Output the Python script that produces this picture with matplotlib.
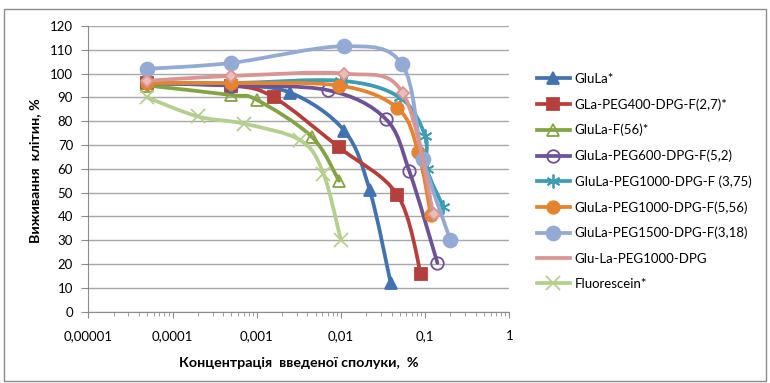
import numpy as np
import matplotlib
matplotlib.use("Agg")
import matplotlib.pyplot as plt
from matplotlib.path import Path
from matplotlib.patches import PathPatch, Rectangle
from matplotlib.lines import Line2D
from matplotlib.ticker import FixedLocator, FixedFormatter, LogLocator, NullFormatter

plt.rcParams["font.family"] = ["Lato", "Noto Sans", "DejaVu Sans"]

# values (concentration %, survival %)
glula_x = [0.00005, 0.0005, 0.0025, 0.011, 0.022, 0.039]
glula_y = [96, 95, 92, 76, 51, 12]

gla400_x = [0.00005, 0.0005, 0.0016, 0.0095, 0.047, 0.089]
gla400_y = [96, 95, 90, 69, 49, 16]

glulaf_x = [0.00005, 0.0005, 0.001, 0.0045, 0.0095]
glulaf_y = [95, 91, 89, 73.5, 55]

peg600_x = [0.00005, 0.0005, 0.0071, 0.034, 0.065, 0.14]
peg600_y = [96, 95, 93, 81, 59, 20.5]

peg1000a_x = [0.00005, 0.0005, 0.01, 0.05, 0.1, 0.105, 0.165]
peg1000a_y = [96, 96, 97, 90, 74, 60, 44]

peg1000b_x = [0.00005, 0.0005, 0.0095, 0.047, 0.083, 0.117]
peg1000b_y = [96, 96, 95, 85.5, 67, 40.5]

peg1500_x = [0.00005, 0.0005, 0.011, 0.053, 0.095, 0.2]
peg1500_y = [102, 104.5, 111.5, 104, 64, 30]

gludpg_x = [0.00005, 0.0005, 0.011, 0.054, 0.126]
gludpg_y = [97, 99, 100, 92, 41]

fluor_x = [0.00005, 0.0002, 0.0007, 0.0033, 0.0062, 0.01]
fluor_y = [90, 82, 79, 72, 58, 30]

labels = ["GluLa*", "GLa-PEG400-DPG-F(2,7)*", "GluLa-F(56)*",
          "GluLa-PEG600-DPG-F(5,2)", "GluLa-PEG1000-DPG-F (3,75)",
          "GluLa-PEG1000-DPG-F(5,56)", "GluLa-PEG1500-DPG-F(3,18)",
          "Glu-La-PEG1000-DPG", "Fluorescein*"]

x_ticks = [0.00001, 0.0001, 0.001, 0.01, 0.1, 1]
x_tick_labels = ["0,00001", "0,0001", "0,001", "0,01", "0,1", "1"]
y_ticks = list(range(0, 121, 10))

# (x, y, colour, marker, size, face)
styles = [
    (glula_x, glula_y, "#4372B0", "^", 9, "#4372B0"),
    (gla400_x, gla400_y, "#B4403D", "s", 8, "#B4403D"),
    (glulaf_x, glulaf_y, "#84A443", "^", 9, "none"),
    (peg600_x, peg600_y, "#6E5296", "o", 9, "none"),
    (peg1000a_x, peg1000a_y, "#3C9DB4", (6, 2, 0), 10, "#3C9DB4"),
    (peg1000b_x, peg1000b_y, "#E5832F", "o", 9, "#E5832F"),
    (peg1500_x, peg1500_y, "#93AAD4", "o", 10, "#93AAD4"),
    (gludpg_x, gludpg_y, "#D89593", "D", 6.5, "#E8BDBC"),
    (fluor_x, fluor_y, "#B5CF8E", "x", 10, "#B5CF8E"),
]


def smooth_path(x, y):
    # Excel-like smoothed line: cubic Bezier through the points (log x space)
    pts = np.column_stack([np.log10(x), np.asarray(y, float)])
    n = len(pts)
    verts = [pts[0]]
    codes = [Path.MOVETO]
    for i in range(n - 1):
        p0 = pts[max(i - 1, 0)]
        p1 = pts[i]
        p2 = pts[i + 1]
        p3 = pts[min(i + 2, n - 1)]
        verts += [p1 + (p2 - p0) / 6, p2 - (p3 - p1) / 6, p2]
        codes += [Path.CURVE4] * 3
    verts = np.array(verts)
    verts[:, 0] = 10 ** verts[:, 0]
    return Path(verts, codes)


W, H = 770, 383
fig = plt.figure(figsize=(W / 100, H / 100), dpi=100)
fig.patches.append(Rectangle((4 / W, 1 - 381 / H), 762 / W, 372 / H,
                             transform=fig.transFigure, fill=False,
                             ec="#8C8C8C", lw=1))
ax = fig.add_axes([88.3 / W, 1 - 311.7 / H, 421 / W, 285.7 / H])

lw = 2.7
handles = []
for i, (x, y, c, m, ms, fc) in enumerate(styles):
    z = 3 + i * 0.1
    ax.add_patch(PathPatch(smooth_path(x, y), fill=False, ec=c, lw=lw,
                           zorder=z, capstyle="round", joinstyle="round"))
    ax.plot(x, y, linestyle="none", marker=m, ms=ms, mfc=fc, mec=c,
            mew=1.3, zorder=z + 0.05)
    hm = "" if i == 7 else m
    handles.append(Line2D([], [], color=c, lw=lw, marker=hm, ms=ms,
                          mfc=fc, mec=c, mew=1.3))

ax.set_xscale("log")
ax.set_xlim(1e-5, 1)
ax.set_ylim(0, 120)
ax.xaxis.set_major_locator(FixedLocator(x_ticks))
ax.xaxis.set_major_formatter(FixedFormatter(x_tick_labels))
ax.xaxis.set_minor_locator(LogLocator(base=10, subs=range(2, 10)))
ax.xaxis.set_minor_formatter(NullFormatter())
ax.set_yticks(y_ticks)

ax.yaxis.grid(True, color="#A8A8A8", lw=1)
ax.set_axisbelow(True)
for s in ["top", "right"]:
    ax.spines[s].set_visible(False)
for s in ["left", "bottom"]:
    ax.spines[s].set_color("#8C8C8C")
ax.tick_params(axis="both", which="both", colors="#8C8C8C", labelcolor="black",
               labelsize=9.5, direction="out")
ax.tick_params(axis="x", which="major", length=4, pad=9)
ax.tick_params(axis="x", which="minor", length=3)
ax.tick_params(axis="y", length=5, pad=6)

fig.text(299 / W, 1 - 363 / H, "Концентрація  введеної сполуки,  %",
         ha="center", va="center", fontsize=10.3, fontweight="bold")
fig.text(35 / W, 1 - 171 / H, "Виживання  клітин, %", ha="center",
         va="center", rotation=90, fontsize=10.3, fontweight="bold")

fig.legend(handles, labels, loc="upper left",
           bbox_to_anchor=(537 / W, 1 - 73 / H), frameon=False,
           fontsize=9.5, handlelength=2.5, handletextpad=0.35,
           labelspacing=1.0, borderpad=0, borderaxespad=0)

fig.savefig("out.png", dpi=100)
